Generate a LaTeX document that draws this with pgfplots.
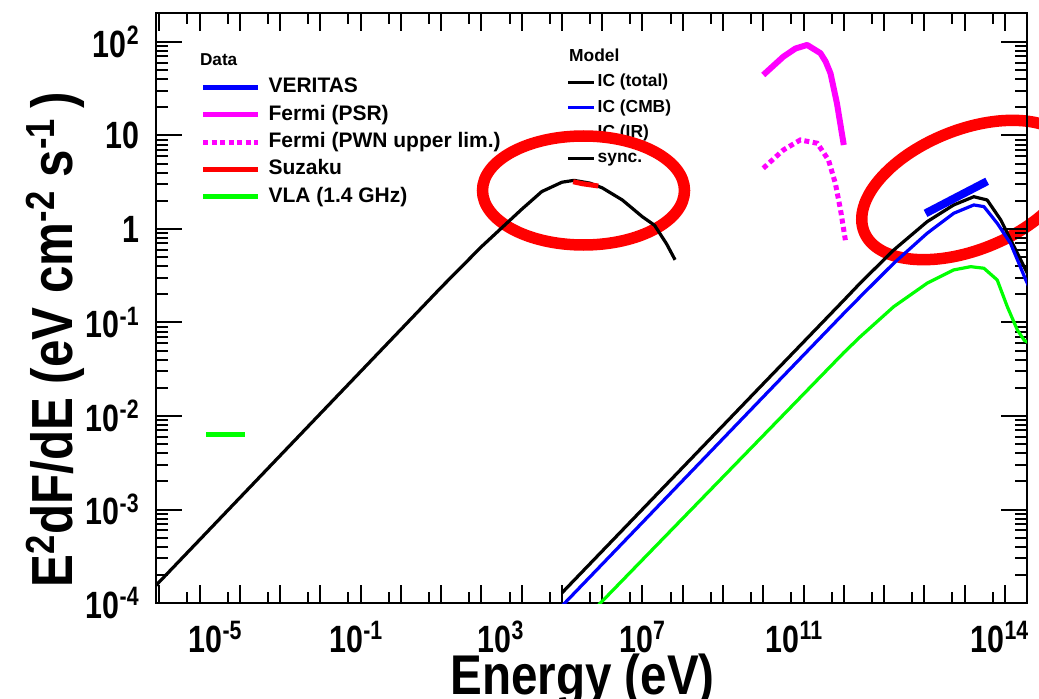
\documentclass[border=0pt]{standalone}
\usepackage{fontspec}
\setmainfont{Liberation Sans}
\newfontfamily\condtick[FakeStretch=0.8]{Liberation Sans}
\newfontfamily\condtitle[FakeStretch=0.85]{Liberation Sans}
\usepackage{pgfplots}
\pgfplotsset{compat=1.18}
\definecolor{rmag}{RGB}{255,0,255}
\definecolor{rgreen}{RGB}{0,255,0}
\definecolor{rblue}{RGB}{0,0,255}
\definecolor{rred}{RGB}{255,0,0}
\newcommand{\tickfont}{\condtick\fontsize{19}{20}\selectfont\bfseries}
\newcommand{\titlefont}{\condtitle\fontsize{28}{29}\selectfont\bfseries}
\begin{document}
\begin{tikzpicture}
\useasboundingbox (0,0) rectangle (519.5pt,349pt);
% ---------- axis A: x ticks, labels, model legend ----------
\begin{axis}[
  at={(78pt,47.5pt)}, anchor=south west,
  scale only axis, width=435.5pt, height=295pt,
  xmode=log, ymode=log,
  xmin=8.3e-8, xmax=3.55e14, ymin=1e-4, ymax=204,
  xtick={1e-7,1e-6,1e-5,1e-4,1e-3,1e-2,1e-1,1,10,100,1e3,1e4,1e5,1e6,1e7,1e8,1e9,1e10,1e11,1e12,1e13,1e14},
  xticklabels={},
  minor xtick={5e-7,5e-6,5e-5,5e-4,5e-3,5e-2,0.5,5,50,500,5e3,5e4,5e5,5e6,5e7,5e8,5e9,5e10,5e11,5e12,5e13},
  extra x ticks={2.512e-6,7.85e-3,30.8,1.016e5,5.96e8,7.59e13},
  extra x tick labels={{10\textsuperscript{-5}},{10\textsuperscript{-1}},{10\textsuperscript{3}},{10\textsuperscript{7}},{10\textsuperscript{11}},{10\textsuperscript{14}}},
  extra x tick style={tick style={draw=none}},
  ytick=\empty, yminorticks=false,
  major tick length=9pt, minor tick length=5.5pt,
  tick align=inside,
  tick style={black, line width=1pt},
  axis line style={line width=1pt},
  xticklabel style={font=\tickfont, inner sep=0pt, anchor=north, yshift=-9pt},
  xlabel={Energy (eV)},
  xlabel style={at={(axis description cs:0.4897,-0.1545)}, anchor=base, font=\titlefont},
  ylabel={E\textsuperscript{2}dF/dE (eV cm\textsuperscript{-2} s\textsuperscript{-1}\,)},
  ylabel style={at={(axis description cs:-0.0953,0.446)}, anchor=base, font=\condtitle\fontsize{29}{30}\selectfont\bfseries},
  legend style={at={(axis description cs:0.4715,0.94)}, anchor=north west, draw=none, fill=none,
    inner sep=0pt, outer sep=0pt, row sep=4.15pt, column sep=1pt,
    nodes={inner sep=0pt, text height=6.5pt, text depth=2pt, font=\fontsize{8.7}{10}\selectfont\bfseries}},
  legend cell align=left,
  legend image code/.code={\draw[line width=1.5pt,#1] (0pt,0pt) -- (13pt,0pt);},
]
\addlegendimage{legend image code/.code={\node[anchor=west,inner sep=0pt,font=\fontsize{8.7}{10}\selectfont\bfseries] at (0pt,0pt) {\makebox[0pt][l]{Model}};}}
\addlegendentry{}
\addlegendimage{black}
\addlegendentry{IC (total)}
\addlegendimage{rblue}
\addlegendentry{IC (CMB)}
\addlegendimage{rgreen}
\addlegendentry{IC (IR)}
\addlegendimage{black}
\addlegendentry{sync.}
\end{axis}
% ---------- red annotation ellipses ----------
\draw[rred, line width=5.75pt] (291.75pt,253.75pt) ellipse [x radius=50.5pt, y radius=27.25pt];
\draw[rred, line width=5.75pt, rotate around={22:(484pt,254pt)}] (484pt,254pt) ellipse [x radius=56pt, y radius=30pt];
% ---------- axis B: data, y ticks, data legend ----------
\begin{axis}[
  at={(78pt,47.5pt)}, anchor=south west,
  scale only axis, width=435.5pt, height=295pt,
  xmode=log, ymode=log,
  xmin=8.3e-8, xmax=3.55e14, ymin=1e-4, ymax=204,
  xtick=\empty, xminorticks=false,
  ytick={1e-4,1e-3,1e-2,1e-1,1,10,100},
  yticklabels={{10\textsuperscript{-4}},{10\textsuperscript{-3}},{10\textsuperscript{-2}},{10\textsuperscript{-1}},1,10,{10\textsuperscript{2}}},
  major tick length=13pt, minor tick length=6pt,
  tick align=inside,
  tick style={black, line width=1pt},
  axis line style={line width=1pt},
  yticklabel style={font=\tickfont, inner sep=0pt, anchor=east, xshift=-8pt},
  legend style={at={(axis description cs:0.0494,0.939)}, anchor=north west, draw=none, fill=none,
    inner sep=0pt, outer sep=0pt, row sep=3.25pt, column sep=4pt,
    nodes={inner sep=0pt, text height=8pt, text depth=2.5pt, font=\fontsize{10.5}{12}\selectfont\bfseries}},
  legend cell align=left,
  legend image code/.code={\draw[line width=2.5pt,#1] (0pt,0pt) -- (27.5pt,0pt);},
]
% synchrotron
\addplot[black, line width=1.6pt, line join=round, forget plot] coordinates {
(6.31e-8,1.365e-4) (1e-6,4.73e-4) (1e-4,3.76e-3) (1e-2,2.985e-2) (1,0.2371) (10,0.6457)
(31.62,1.023) (100,1.622) (316.2,2.512) (1000,3.162) (1995,3.311) (5012,3.09) (1e4,2.754)
(3.162e4,2.042) (1e5,1.349) (1.995e5,1.096) (3.981e5,0.6918) (6.457e5,0.4677)};
% IC total
\addplot[black, line width=1.6pt, line join=round, forget plot] coordinates {
(1000,1.282e-4) (1e5,1.005e-3) (1e8,2.213e-2) (1e10,0.1726) (2.57e10,0.2642) (1.738e11,0.5957)
(1.175e12,1.197) (5.37e12,1.807) (1.698e13,2.213) (3.631e13,2.042) (7.943e13,1.247)
(1.698e14,0.6457) (3.311e14,0.3631) (3.981e14,0.309)};
% IC CMB
\addplot[rblue, line width=1.6pt, line join=round, forget plot] coordinates {
(1000,9.29e-5) (1e5,7.278e-4) (1e8,1.603e-2) (1e10,0.125) (2.57e10,0.1888) (1.738e11,0.4295)
(1.175e12,0.8995) (5.37e12,1.472) (1.698e13,1.807) (3.02e13,1.734) (6.457e13,1.151)
(1.38e14,0.7031) (3.311e14,0.2851) (3.981e14,0.2399)};
% IC IR
\addplot[rgreen, line width=1.6pt, line join=round, forget plot] coordinates {
(1000,3.767e-5) (1e5,2.897e-4) (1e8,6.18e-3) (1e10,4.753e-2) (2.57e10,7.047e-2) (1.738e11,0.1476)
(1.175e12,0.263) (5.37e12,0.3648) (1.413e13,0.3954) (3.02e13,0.3802) (6.457e13,0.2851)
(1.148e14,0.1479) (2.042e14,8.318e-2) (3.02e14,6.457e-2) (3.981e14,6.026e-2)};
% Fermi PSR
\addplot[rmag, line width=3pt, line join=round, forget plot] coordinates {
(1e8,44.36) (3.162e8,69.66) (6.31e8,85.1) (1.23e9,92.9) (2.63e9,75.9) (3.548e9,61.7)
(4.677e9,46.2) (6.761e9,22.1) (1e10,7.907)};
% Fermi PWN upper limit
\addplot[rmag, line width=2.5pt, dash pattern=on 2.5pt off 1.75pt, forget plot] coordinates {
(1e8,4.457) (3.162e8,7.0) (8.318e8,8.954) (2.188e9,8.26) (4.169e9,5.47) (6.166e9,3.083)
(8.318e9,1.596) (1.096e10,0.7586)};
% VERITAS
\addplot[rblue, line width=4pt, forget plot] coordinates {
(1.072e12,1.469) (6.31e12,2.188) (3.631e13,3.236)};
% Suzaku
\addplot[rred, line width=2.5pt, forget plot] coordinates {
(1900,3.2) (3200,3.05) (8000,2.88)};
% VLA
\addplot[rgreen, line width=2.5pt, forget plot] coordinates {
(1.479e-6,6.27e-3) (1.318e-5,6.27e-3)};
% legend
\addlegendimage{legend image code/.code={\node[anchor=west,inner sep=0pt,font=\fontsize{8.6}{10}\selectfont\bfseries] at (-2pt,0pt) {\makebox[0pt][l]{Data}};}}
\addlegendentry{}
\addlegendimage{rblue}
\addlegendentry{VERITAS}
\addlegendimage{rmag}
\addlegendentry{Fermi (PSR)}
\addlegendimage{rmag, dash pattern=on 2.5pt off 1.75pt}
\addlegendentry{Fermi (PWN upper lim.)}
\addlegendimage{rred}
\addlegendentry{Suzaku}
\addlegendimage{rgreen}
\addlegendentry{VLA (1.4 GHz)}
\end{axis}
\end{tikzpicture}
\end{document}
